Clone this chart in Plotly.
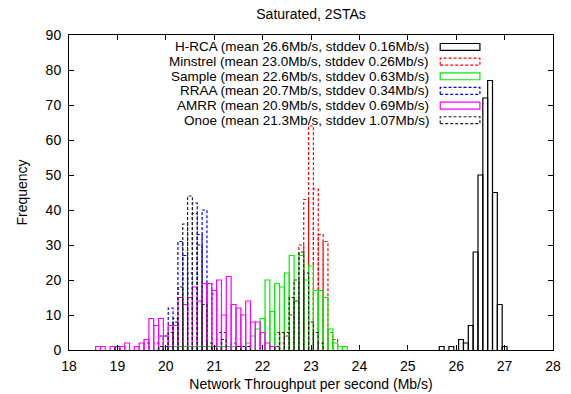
import plotly.graph_objects as go

chart_title = "Saturated, 2STAs"
x_title = "Network Throughput per second (Mb/s)"
y_title = "Frequency"

series_names = ["H-RCA", "Minstrel", "Sample", "RRAA", "AMRR", "Onoe"]
series_means = [26.6, 23.0, 22.6, 20.7, 20.9, 21.3]
series_stddevs = [0.16, 0.26, 0.63, 0.34, 0.69, 1.07]

bin_width = 0.1

hrca_x = [25.7, 25.9, 26.1, 26.2, 26.3, 26.4, 26.5, 26.6, 26.7, 26.8, 26.9, 27.0]
hrca_y = [1, 1, 3, 2, 7, 28, 50, 72, 77, 45, 13, 1]

minstrel_x = [22.3, 22.4, 22.5, 22.6, 22.7, 22.8, 22.9, 23.0, 23.1, 23.2, 23.3, 23.4, 23.5]
minstrel_y = [5, 2, 4, 10, 14, 30, 43, 64, 46, 33, 31, 5, 3]

sample_x = [20.0, 20.1, 20.2, 20.3, 20.4, 20.5, 20.6, 20.7, 20.8, 20.9, 21.0, 21.1, 21.2,
            21.3, 21.4, 21.5, 21.6, 21.7, 21.8, 21.9, 22.0, 22.1, 22.2, 22.3, 22.4, 22.5,
            22.6, 22.7, 22.8, 22.9, 23.0, 23.1, 23.2, 23.3, 23.4, 23.5, 23.6, 23.7]
sample_y = [1, 1, 1, 1, 1, 1, 1, 1, 1, 1, 1, 1, 1,
            1, 1, 1, 1, 2, 4, 6, 9, 20, 11, 19, 18, 22,
            27, 14, 27, 20, 24, 17, 17, 15, 6, 2, 1, 1]

rraa_x = [19.6, 19.8, 19.9, 20.0, 20.1, 20.2, 20.3, 20.4, 20.5, 20.6, 20.7, 20.8, 20.9,
          21.0, 21.1, 21.2, 21.4, 21.6]
rraa_y = [2, 2, 4, 4, 12, 8, 31, 27, 22, 42, 33, 40, 19, 16, 5, 5, 2, 1]

amrr_x = [18.6, 18.7, 18.9, 19.0, 19.1, 19.2, 19.4, 19.5, 19.6, 19.7, 19.8, 19.9, 20.0,
          20.1, 20.2, 20.3, 20.4, 20.5, 20.6, 20.7, 20.8, 20.9, 21.0, 21.1, 21.2, 21.3,
          21.4, 21.5, 21.6, 21.7, 21.8, 21.9, 22.0, 22.1, 22.2]
amrr_y = [1, 1, 1, 1, 1, 2, 1, 2, 3, 9, 7, 9, 4,
          7, 7, 15, 13, 15, 18, 14, 19, 19, 17, 20, 10, 21,
          13, 12, 10, 14, 8, 8, 5, 2, 1]

onoe_x = [19.0, 19.9, 20.0, 20.1, 20.2, 20.3, 20.4, 20.5, 20.6, 20.7, 20.8, 20.9, 21.0,
          21.2, 21.5, 21.7, 22.3, 22.4, 22.5, 22.6, 22.7, 22.8, 22.9, 23.0, 23.1, 23.2]
onoe_y = [1, 1, 1, 5, 9, 18, 36, 44, 39, 30, 13, 2, 1,
          3, 1, 1, 1, 5, 5, 15, 20, 28, 22, 8, 5, 2]

x_ticks = [18, 19, 20, 21, 22, 23, 24, 25, 26, 27, 28]
y_ticks = [0, 10, 20, 30, 40, 50, 60, 70, 80, 90]

series_x = [hrca_x, minstrel_x, sample_x, rraa_x, amrr_x, onoe_x]
series_y = [hrca_y, minstrel_y, sample_y, rraa_y, amrr_y, onoe_y]
colors = ["#000000", "#ff0000", "#00ee00", "#0000ff", "#ff00ff", "#222222"]
dashes = ["solid", "3px,2px", "solid", "3px,2px", "solid", "3px,2px"]

FONT = "Liberation Sans, Arial, sans-serif"


def box_outline(xs, ys, w):
    px, py = [], []
    for x, y in zip(xs, ys):
        l, r = x - w / 2, x + w / 2
        px += [l, l, r, r, None]
        py += [0, y, y, 0, None]
    return px, py


fig = go.Figure()
for name, xs, ys, c, d in zip(series_names, series_x, series_y, colors, dashes):
    bx, by = box_outline(xs, ys, bin_width)
    fig.add_trace(go.Scatter(x=bx, y=by, mode="lines", name=name,
                             line=dict(color=c, width=1.2, dash=d),
                             connectgaps=False, showlegend=False, hoverinfo="skip"))

# legend drawn manually (gnuplot style: text right-aligned, key box on the right)
row_y0 = 0.962
row_step = 0.0465
for i, (name, m, s, c, d) in enumerate(zip(series_names, series_means, series_stddevs, colors, dashes)):
    yc = row_y0 - i * row_step
    fig.add_annotation(x=0.746, y=yc, xref="paper", yref="paper", xanchor="right", yanchor="middle",
                       text=f"{name} (mean {m:.1f}Mb/s, stddev {s:.2f}Mb/s)", showarrow=False,
                       borderpad=0,
                       font=dict(family=FONT, size=13.5, color="#000000"))
    fig.add_shape(type="rect", xref="paper", yref="paper",
                  x0=0.767, x1=0.849, y0=yc - 0.011, y1=yc + 0.011,
                  line=dict(color=c, width=1.2, dash=d), fillcolor="rgba(0,0,0,0)")

axis_common = dict(showline=True, linecolor="#000000", linewidth=1, mirror="ticks",
                   ticks="inside", ticklen=5, tickcolor="#000000", showgrid=False, zeroline=False,
                   automargin=False,
                   tickfont=dict(family=FONT, size=14, color="#000000"))

fig.update_layout(
    width=571, height=394,
    margin=dict(l=69, r=18, t=35, b=44, autoexpand=False),
    paper_bgcolor="#ffffff", plot_bgcolor="#ffffff",
    title=dict(text=chart_title, x=0.5, xanchor="center", xref="paper", y=1 - 14 / 394, yanchor="middle",
               font=dict(family=FONT, size=14, color="#000000")),
    xaxis=dict(range=[18, 28], tickvals=x_ticks, ticktext=[str(t) for t in x_ticks],
               title=dict(text=x_title, font=dict(family=FONT, size=14, color="#000000"), standoff=6),
               ticklabelstandoff=3,
               **axis_common),
    yaxis=dict(range=[0, 90], tickvals=y_ticks, ticktext=[str(t) for t in y_ticks],
               title=dict(text=y_title, font=dict(family=FONT, size=14, color="#000000"), standoff=14),
               ticklabelstandoff=4,
               **axis_common),
    showlegend=False,
)

fig.write_html("out.html")
